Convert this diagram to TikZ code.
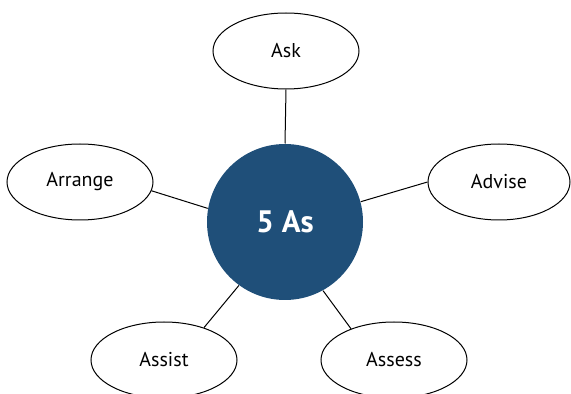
\documentclass[tikz,border=0pt]{standalone}
\usepackage{fontspec}
\setmainfont{PT Sans}
\usetikzlibrary{shapes.geometric}
\definecolor{hubblue}{RGB}{31,79,121}

\begin{document}
\begin{tikzpicture}[
  x=1pt, y=1pt,
  stage/.style={ellipse, draw, line width=1pt, inner sep=0pt,
    minimum width=146pt, minimum height=76pt, font=\fontsize{20}{24}\selectfont},
  hub/.style={circle, fill=hubblue, inner sep=0pt, minimum size=156pt,
    text=white, font=\fontsize{31}{36}\selectfont\bfseries},
  every path/.style={line width=1pt},
]
  \useasboundingbox (0,0) rectangle (571,394);

  \node[hub] (hub) at (285,172) {5 As};

  \node[stage] (ask)     at (286,343) {Ask};
  \node[stage] (arrange) at (80,212)  {Arrange};
  \node[stage, minimum width=142pt] (advise) at (499,212) {Advise};
  \node[stage] (assist)  at (164,34)  {Assist};
  \node[stage] (assess)  at (394,34)  {Assess};

  % spokes
  \draw (ask.south) -- (hub.north);
  \draw (arrange.-7) -- (hub.170);
  \draw (advise.west) -- (hub.15);
  \draw (assist.39) -- (hub.234);
  \draw (assess.144) -- (hub.299);
\end{tikzpicture}
\end{document}
